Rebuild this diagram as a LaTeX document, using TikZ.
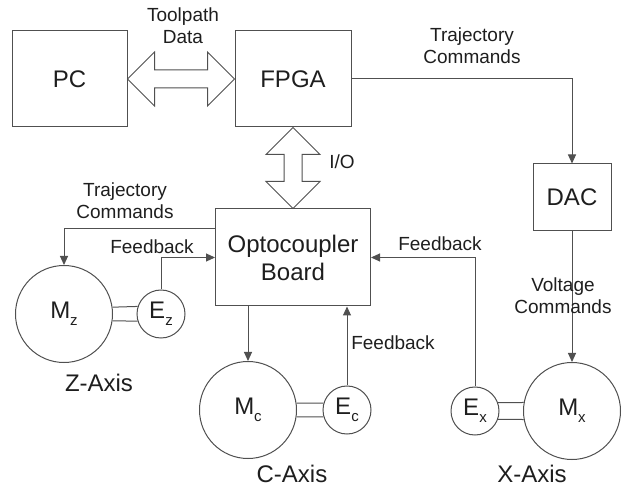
\documentclass[tikz,border=0pt]{standalone}
\usepackage{fontspec}
\setmainfont{Liberation Sans}
\usetikzlibrary{arrows.meta,calc}
\definecolor{linegray}{HTML}{505050}
\definecolor{textgray}{HTML}{1E1E1E}
\newcommand{\axsub}[1]{\raisebox{-0.55ex}{\fontsize{15}{15}\selectfont #1}}
\begin{document}
\begin{tikzpicture}[
        x=1pt, y=-1pt,
        line width=1pt, draw=linegray, text=textgray,
        block/.style={rectangle, draw=linegray, inner sep=0pt, font=\fontsize{24}{28}\selectfont, align=center},
        motor/.style={circle, draw=linegray, inner sep=0pt, minimum size=97pt, font=\fontsize{24}{28}\selectfont},
        encoder/.style={circle, draw=linegray, inner sep=0pt, minimum size=48pt, font=\fontsize{24}{28}\selectfont},
        sig/.style={draw=linegray, -{Triangle[length=9pt,width=8pt]}},
        fat/.style={draw=linegray, line join=miter},
        edge_label/.style={font=\fontsize{19}{22}\selectfont, align=center, inner sep=0pt},
        axis_label/.style={font=\fontsize{24}{28}\selectfont, inner sep=0pt}
    ]
        \useasboundingbox (0,0) rectangle (622,489);

        % Blocks
        \node[block, minimum width=115pt, minimum height=96pt] (pc) at (69.5, 79) {PC};
        \node[block, minimum width=116pt, minimum height=96pt] (fpga) at (293, 79) {FPGA};
        \node[block, minimum width=155pt, minimum height=97pt] (opto) at (293, 257.5) {Optocoupler\\Board};
        \node[block, minimum width=78pt, minimum height=67pt] (dac) at (572, 197.5) {DAC};

        % Motors and encoders
        \node[motor] (mz) at (64, 314) {M\axsub{z}};
        \node[encoder] (ez) at (161, 314) {E\axsub{z}};
        \node[motor] (mc) at (248, 410) {M\axsub{c}};
        \node[encoder] (ec) at (347, 410) {E\axsub{c}};
        \node[encoder] (ex) at (475, 411) {E\axsub{x}};
        \node[motor] (mx) at (572, 411) {M\axsub{x}};

        % Shafts
        \draw (mz.8.5) -- (ez.162.5);
        \draw (mz.-8.5) -- (ez.197.5);
        \draw (mc.8) -- (ec.164);
        \draw (mc.-8) -- (ec.196);
        \draw (ex.20) -- (mx.170);
        \draw (ex.-20) -- (mx.190);

        % Bus arrows
        \draw[fat] (pc.east) -- ($(pc.east)+(27,-27)$) -- ($(pc.east)+(27,-9)$)
            -- ($(fpga.west)+(-27,-9)$) -- ($(fpga.west)+(-27,-27)$) -- (fpga.west)
            -- ($(fpga.west)+(-27,27)$) -- ($(fpga.west)+(-27,9)$)
            -- ($(pc.east)+(27,9)$) -- ($(pc.east)+(27,27)$) -- cycle;
        \draw[fat] (fpga.south) -- ($(fpga.south)+(27,27)$) -- ($(fpga.south)+(9,27)$)
            -- ($(opto.north)+(9,-27)$) -- ($(opto.north)+(27,-27)$) -- (opto.north)
            -- ($(opto.north)+(-27,-27)$) -- ($(opto.north)+(-9,-27)$)
            -- ($(fpga.south)+(-9,27)$) -- ($(fpga.south)+(-27,27)$) -- cycle;

        % Signal connections
        \draw[sig] (fpga.east) -| (dac.north);
        \draw[sig] (dac.south) -- (mx.north);
        \draw[sig] ($(opto.north west)+(0,20)$) -| (mz.north);
        \draw[sig] (ez.north) |- (opto.west);
        \draw[sig] (mc.north |- opto.south) -- (mc.north);
        \draw[sig] (ec.north) -- (ec.north |- opto.south);
        \draw[sig] (ex.north) |- (opto.east);

        % Labels
        \node[edge_label] (toolpath) at (183, 26) {Toolpath\\Data};
        \node[edge_label] (trajtop) at (472, 46) {Trajectory\\Commands};
        \node[edge_label] (io) at (342, 162) {I/O};
        \node[edge_label] (trajleft) at (125, 201) {Trajectory\\Commands};
        \node[edge_label] (fbz) at (152, 247) {Feedback};
        \node[edge_label] (fbx) at (440, 244) {Feedback};
        \node[edge_label] (fbc) at (393, 343) {Feedback};
        \node[edge_label] (volt) at (563, 296) {Voltage\\Commands};
        \node[axis_label] (zaxis) at (99, 383) {Z-Axis};
        \node[axis_label] (caxis) at (292, 474) {C-Axis};
        \node[axis_label] (xaxis) at (532, 474) {X-Axis};

    \end{tikzpicture}
\end{document}
